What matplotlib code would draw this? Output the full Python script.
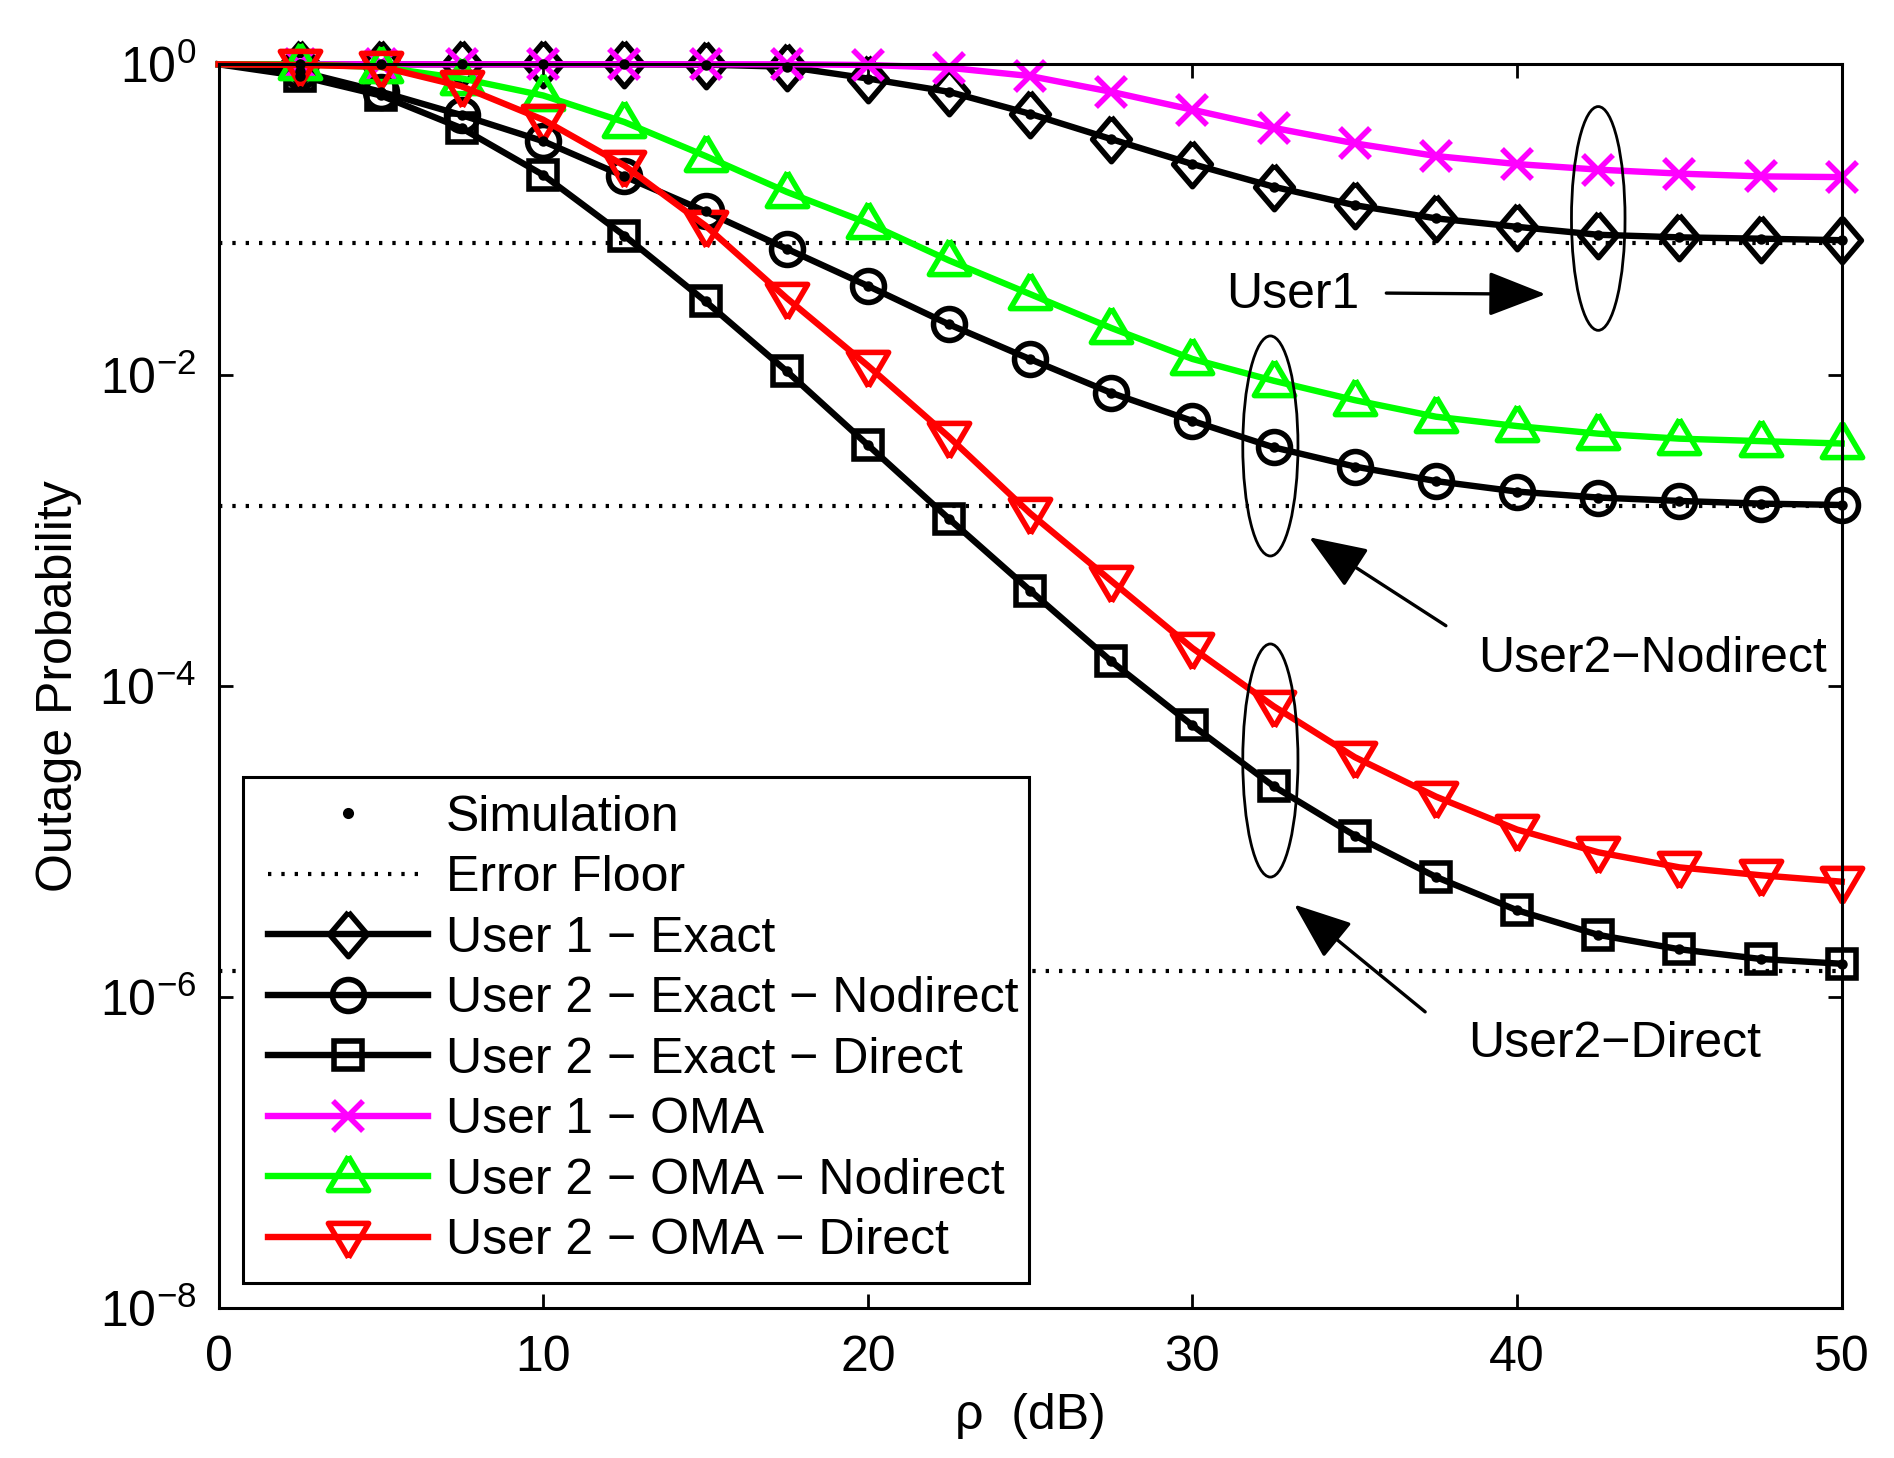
import numpy as np
import matplotlib
matplotlib.use("Agg")
import matplotlib.pyplot as plt
from matplotlib.patches import Ellipse, Rectangle
from matplotlib.lines import Line2D

plt.rcParams['font.family'] = ['Liberation Sans', 'DejaVu Sans']
plt.rcParams['mathtext.fontset'] = 'custom'
plt.rcParams['mathtext.rm'] = 'Liberation Sans'
plt.rcParams['mathtext.default'] = 'regular'
plt.rcParams['font.size'] = 18

# data
rho = [0, 2.5, 5, 7.5, 10, 12.5, 15, 17.5, 20, 22.5, 25,
       27.5, 30, 32.5, 35, 37.5, 40, 42.5, 45, 47.5, 50]

user1_exact = [1.0, 1.0, 1.0, 1.0, 1.0, 1.0, 0.995, 0.965, 0.81, 0.665, 0.48,
               0.33, 0.228, 0.163, 0.124, 0.102, 0.090, 0.080, 0.077, 0.0755, 0.0738]
user2_exact_nd = [1.0, 0.90, 0.666, 0.47, 0.32, 0.19, 0.113, 0.065, 0.0375, 0.0212, 0.01266,
                  0.00768, 0.00507, 0.00343, 0.00258, 0.00208, 0.00178, 0.00163, 0.00155, 0.00149, 0.00146]
user2_exact_d = [1.0, 0.84, 0.63, 0.387, 0.194, 0.079, 0.0298, 0.0106, 0.00355, 0.00119, 4.11e-4,
                 1.44e-4, 5.57e-5, 2.26e-5, 1.09e-5, 5.9e-6, 3.6e-6, 2.5e-6, 2.02e-6, 1.75e-6, 1.63e-6]
user1_oma = [1.0, 1.0, 1.0, 1.0, 1.0, 1.0, 1.0, 1.0, 0.99, 0.95, 0.84,
             0.665, 0.51, 0.39, 0.31, 0.257, 0.228, 0.21, 0.198, 0.19, 0.188]
user2_oma_nd = [1.0, 1.0, 0.96, 0.81, 0.63, 0.425, 0.257, 0.151, 0.095, 0.0547, 0.0332,
                0.0201, 0.0127, 0.0092, 0.0069, 0.0054, 0.0047, 0.0042, 0.0039, 0.00376, 0.00363]
user2_oma_d = [1.0, 0.99, 0.965, 0.72, 0.44, 0.223, 0.0915, 0.0313, 0.0115, 0.0040, 0.00129,
               4.74e-4, 1.75e-4, 7.4e-5, 3.48e-5, 1.94e-5, 1.19e-5, 8.5e-6, 6.8e-6, 6.05e-6, 5.5e-6]
error_floors = [0.0713, 0.001434, 1.46e-6]

labels = ["Simulation", "Error Floor", "User 1 \u2212 Exact",
          "User 2 \u2212 Exact \u2212 Nodirect", "User 2 \u2212 Exact \u2212 Direct",
          "User 1 \u2212 OMA", "User 2 \u2212 OMA \u2212 Nodirect", "User 2 \u2212 OMA \u2212 Direct"]

# matlab-like marker shapes
diamond = [(0, 1), (0.85, 0), (0, -1), (-0.85, 0), (0, 1)]
tri_up = [(0, 1), (1, -0.7), (-1, -0.7), (0, 1)]
tri_down = [(0, -1), (1, 0.7), (-1, 0.7), (0, -1)]

fig = plt.figure(figsize=(9.47, 7.29), dpi=200)
ax = fig.add_axes([0.1154, 0.1032, 0.857, 0.8527])
ax.set_yscale('log')

floor_ls = (0, (0.8, 2.4))
for f in error_floors:
    ax.axhline(f, color='k', lw=1.5, ls=floor_ls, zorder=1)

common = dict(lw=2.3, mew=2.0, mfc='none', markevery=slice(1, None), clip_on=False)
curves = [
    (user1_exact, 'k', diamond, 16),
    (user2_exact_nd, 'k', 'o', 11.5),
    (user2_exact_d, 'k', 's', 10),
    (user1_oma, '#ff00ff', 'x', 10.5),
    (user2_oma_nd, '#00ff00', tri_up, 14.5),
    (user2_oma_d, '#ff0000', tri_down, 14.5),
]
handles = []
for vals, col, mk, ms in curves:
    h, = ax.plot(rho, vals, color=col, marker=mk, ms=ms, mec=col, **common)
    handles.append(h)

# simulation points on the exact curves
for vals in [user1_exact, user2_exact_nd, user2_exact_d]:
    ax.plot(rho[1:], vals[1:], ls='none', marker='.', color='k', ms=5.5, clip_on=False)

ax.set_xlim(0, 50)
ax.set_ylim(1e-8, 1)
ax.set_xticks([0, 10, 20, 30, 40, 50])
ax.set_yticks([1e-8, 1e-6, 1e-4, 1e-2, 1])
ax.set_yticklabels([r'$10^{-8}$', r'$10^{-6}$', r'$10^{-4}$', r'$10^{-2}$', r'$10^{0}$'])
ax.minorticks_off()
ax.tick_params(direction='in', length=5, width=1, top=True, right=True, labelsize=18)
ax.tick_params(axis='x', pad=10)
ax.tick_params(axis='y', pad=8)
for s in ax.spines.values():
    s.set_linewidth(1.1)

ax.set_xlabel('\u03c1  (dB)', fontsize=18)
ax.set_ylabel('Outage Probability', fontsize=18)
ax.xaxis.set_label_coords(0.5, -0.069)
ax.yaxis.set_label_coords(-0.084, 0.5)

# legend, with its box drawn by hand
ax.add_patch(Rectangle((0.015, 0.0195), 0.4846, 0.4075, transform=ax.transAxes,
                       fc='white', ec='k', lw=1.1, zorder=6))
h_sim = Line2D([], [], ls='none', marker='.', color='k', ms=6)
h_floor = Line2D([], [], color='k', lw=1.5, ls=floor_ls)
leg = ax.legend([h_sim, h_floor] + handles, labels, loc='upper left',
                bbox_to_anchor=(0.0195, 0.427), borderaxespad=0, fontsize=18,
                numpoints=1, handlelength=3.2, handletextpad=0.35,
                labelspacing=0.29, borderpad=0.36, frameon=False)
leg.set_zorder(7)

# ellipses and arrows
for cx, cy, w, h in [(0.85, 0.876, 0.033, 0.18), (0.648, 0.693, 0.034, 0.177), (0.648, 0.44, 0.034, 0.1875)]:
    ax.add_patch(Ellipse((cx, cy), w, h, transform=ax.transAxes, fill=False, ec='k', lw=1.0, zorder=5))

arrow = dict(arrowstyle='-|>,head_length=0.9,head_width=0.35', color='k', lw=1.2, mutation_scale=20)
ax.annotate('', xy=(0.821, 0.815), xytext=(0.716, 0.816), xycoords='axes fraction', arrowprops=arrow)
ax.annotate('', xy=(0.669, 0.622), xytext=(0.759, 0.546), xycoords='axes fraction', arrowprops=arrow)
ax.annotate('', xy=(0.660, 0.327), xytext=(0.746, 0.235), xycoords='axes fraction', arrowprops=arrow)
ax.text(0.621, 0.8145, 'User1', transform=ax.transAxes, ha='left', va='center', fontsize=18)
ax.text(0.776, 0.5215, 'User2\u2212Nodirect', transform=ax.transAxes, ha='left', va='center', fontsize=18)
ax.text(0.770, 0.212, 'User2\u2212Direct', transform=ax.transAxes, ha='left', va='center', fontsize=18)

fig.savefig('out.png', dpi=200, facecolor='white')
